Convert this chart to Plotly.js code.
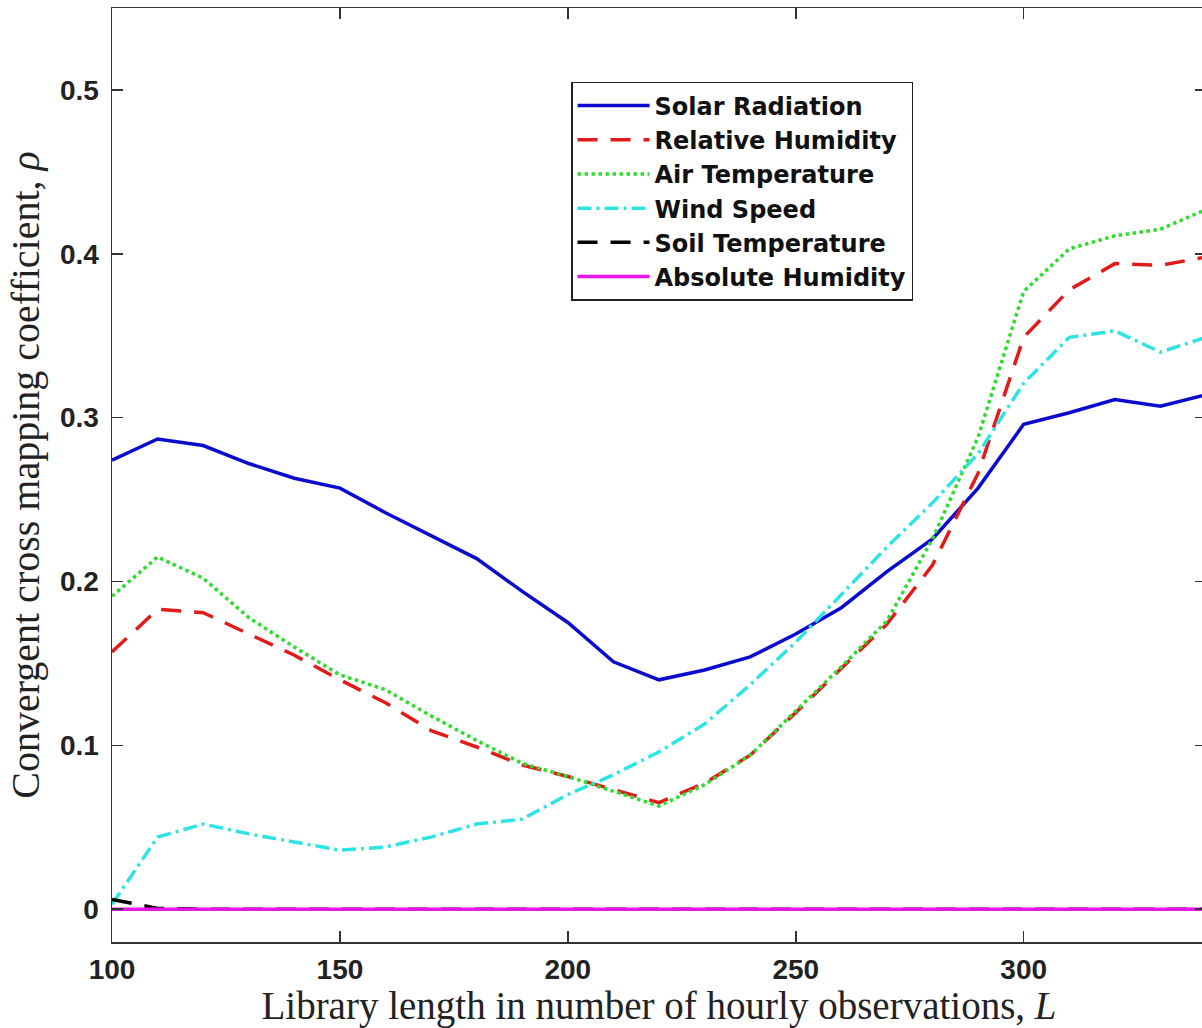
<!DOCTYPE html>
<html>
<head>
<meta charset="utf-8">
<script src="https://cdn.plot.ly/plotly-3.0.1.min.js"></script>
<style>
html, body { margin:0; padding:0; overflow:hidden; background:#fff; }
#chart { width:1206px; height:1028px; }
</style>
</head>
<body>
<div id="chart"></div>
<script>
// Library length L
var libraryLength = [100,110,120,130,140,150,160,170,180,190,200,210,220,230,240,250,260,270,280,290,300,310,320,330,340];

var solarRadiation = [0.274,0.287,0.283,0.272,0.263,0.257,0.242,0.228,0.214,0.194,0.175,0.151,0.140,0.146,0.154,0.168,0.184,0.206,0.226,0.257,0.296,0.303,0.311,0.307,0.314];
var relativeHumidity = [0.157,0.183,0.181,0.168,0.155,0.140,0.126,0.109,0.099,0.088,0.081,0.073,0.065,0.077,0.094,0.120,0.147,0.174,0.210,0.266,0.349,0.378,0.394,0.393,0.398];
var airTemperature = [0.191,0.215,0.202,0.178,0.160,0.143,0.134,0.118,0.103,0.089,0.081,0.072,0.063,0.076,0.094,0.121,0.148,0.176,0.226,0.288,0.377,0.403,0.411,0.415,0.427];
var windSpeed = [0.003,0.044,0.052,0.046,0.041,0.036,0.038,0.044,0.052,0.055,0.070,0.082,0.096,0.113,0.137,0.163,0.192,0.221,0.248,0.278,0.321,0.349,0.353,0.340,0.349];
var soilTemperature = [0.006,0.0005,0,0,0,0,0,0,0,0,0,0,0,0,0,0,0,0,0,0,0,0,0,0,0];
var absoluteHumidity = [0,0,0,0,0,0,0,0,0,0,0,0,0,0,0,0,0,0,0,0,0,0,0,0,0];

var seriesNames = ['Solar Radiation','Relative Humidity','Air Temperature','Wind Speed','Soil Temperature','Absolute Humidity'];
var xTickVals = [100,150,200,250,300];
var yTickVals = [0,0.1,0.2,0.3,0.4,0.5];

var traces = [
  {x: libraryLength, y: solarRadiation, name: seriesNames[0], mode:'lines', line:{color:'#0b0bcf', width:3.5, dash:'solid'}},
  {x: libraryLength, y: relativeHumidity, name: seriesNames[1], mode:'lines', line:{color:'#e31a1a', width:3.5, dash:'20px,13px'}},
  {x: libraryLength, y: airTemperature, name: seriesNames[2], mode:'lines', line:{color:'#2ddc2d', width:3.5, dash:'dot'}},
  {x: libraryLength, y: windSpeed, name: seriesNames[3], mode:'lines', line:{color:'#2fe3e3', width:3.5, dash:'14px,5px,3px,5px'}},
  {x: libraryLength, y: soilTemperature, name: seriesNames[4], mode:'lines', line:{color:'#000000', width:3.5, dash:'20px,13px'}},
  {x: libraryLength, y: absoluteHumidity, name: seriesNames[5], mode:'lines', line:{color:'#e815e8', width:3.5, dash:'solid'}}
];

var axisCommon = {
  showline:true, linecolor:'#333', linewidth:1.5, mirror:'ticks',
  ticks:'inside', ticklen:11, tickwidth:1.5, tickcolor:'#333',
  showgrid:false, zeroline:false,
  tickfont:{family:'Liberation Sans, Arial, sans-serif', size:28, color:'#222', weight:'bold'}
};

var layout = {
  width:1206, height:1028,
  margin:{l:112, r:0, t:8, b:86},
  paper_bgcolor:'#fff', plot_bgcolor:'#fff',
  showlegend:true,
  xaxis: Object.assign({}, axisCommon, {
    range:[100,340], tickvals:xTickVals, ticktext:xTickVals.map(String),
    ticklabelstandoff:2,
    title:{text:'Library length in number of hourly observations, <i>L</i>', standoff:0,
      font:{family:'Liberation Serif, Times New Roman, serif', size:39, color:'#222'}}
  }),
  yaxis: Object.assign({}, axisCommon, {
    range:[-0.02,0.55], tickvals:yTickVals, ticktext:yTickVals.map(String),
    ticklabelstandoff:6,
    title:{text:'Convergent cross mapping coefficient, <i>ρ</i>', standoff:8,
      font:{family:'Liberation Serif, Times New Roman, serif', size:40, color:'#222'}}
  }),
  legend:{
    x:0.4196, y:0.9208, xanchor:'left', yanchor:'top',
    bgcolor:'#fff', bordercolor:'#222', borderwidth:1.5,
    font:{family:'DejaVu Sans, sans-serif', size:24, color:'#111', weight:'bold'},
    tracegroupgap:0, itemwidth:72
  }
};

Plotly.newPlot('chart', traces, layout, {displayModeBar:false, staticPlot:true});
</script>
</body>
</html>
